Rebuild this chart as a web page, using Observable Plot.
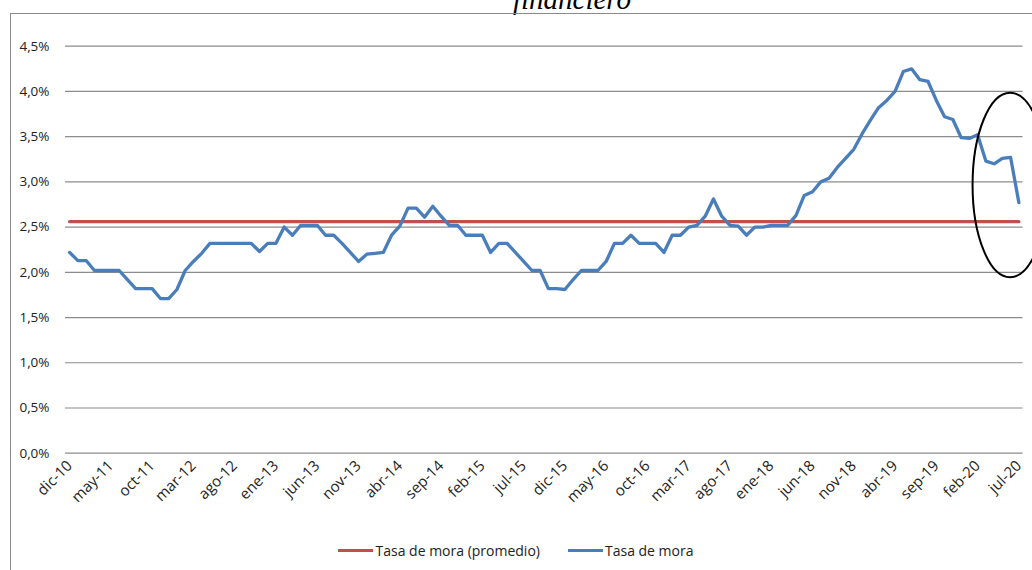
<!DOCTYPE html>
<html>
<head>
<meta charset="utf-8">
<script src="https://cdn.jsdelivr.net/npm/d3@7"></script>
<script src="https://cdn.jsdelivr.net/npm/@observablehq/plot@0.6"></script>
<style>
  html, body { margin: 0; padding: 0; background: #fff; }
  #wrap { position: relative; width: 1032px; height: 570px; overflow: hidden; background: #fff; font-family: "Open Sans", sans-serif; }
  #frame { position: absolute; left: 10px; top: 13px; width: 1100px; height: 700px; border-left: 1px solid #8a8a8a; border-top: 1px solid #8a8a8a; }
  #title { position: absolute; left: 0; width: 1144px; top: -15px; text-align: center; font-family: "Liberation Serif", "Times New Roman", serif; font-style: italic; font-size: 29px; line-height: 29px; color: #000; }
  #chart { position: absolute; left: 0; top: 0; }
  #legend { position: absolute; top: 541px; left: 0; width: 1032px; display: flex; justify-content: center; align-items: center; font-size: 14px; color: #222; }
  .item { display: flex; align-items: center; margin: 0 14px; }
  .sw { width: 35px; height: 3px; margin-right: 2px; }
</style>
</head>
<body>
<div id="wrap">
  <div id="title">financiero</div>
  <div id="frame"></div>
  <div id="chart"></div>
  <div id="legend"></div>
</div>
<script>
// ---- Data ----
const monthNames = ["ene","feb","mar","abr","may","jun","jul","ago","sep","oct","nov","dic"];
const tickLabels = ["dic-10","may-11","oct-11","mar-12","ago-12","ene-13","jun-13","nov-13","abr-14","sep-14","feb-15","jul-15","dic-15","may-16","oct-16","mar-17","ago-17","ene-18","jun-18","nov-18","abr-19","sep-19","feb-20","jul-20"];
const yTicks = [0, 0.5, 1, 1.5, 2, 2.5, 3, 3.5, 4, 4.5];
// Tasa de mora (%), monthly dic-10 .. jul-20
const tasaMora = [
  2.22, 2.13, 2.13, 2.02, 2.02, 2.02, 2.02, 1.92, 1.82, 1.82,
  1.82, 1.71, 1.71, 1.81, 2.02, 2.12, 2.21, 2.32, 2.32, 2.32,
  2.32, 2.32, 2.32, 2.23, 2.32, 2.32, 2.50, 2.41, 2.52, 2.52,
  2.52, 2.41, 2.41, 2.32, 2.22, 2.12, 2.20, 2.21, 2.22, 2.41,
  2.51, 2.71, 2.71, 2.61, 2.73, 2.62, 2.52, 2.52, 2.41, 2.41,
  2.41, 2.22, 2.32, 2.32, 2.22, 2.12, 2.02, 2.02, 1.82, 1.82,
  1.81, 1.92, 2.02, 2.02, 2.02, 2.12, 2.32, 2.32, 2.41, 2.32,
  2.32, 2.32, 2.22, 2.41, 2.41, 2.50, 2.52, 2.62, 2.81, 2.62,
  2.52, 2.51, 2.41, 2.50, 2.50, 2.52, 2.52, 2.52, 2.63, 2.85,
  2.89, 3.00, 3.04, 3.16, 3.26, 3.36, 3.53, 3.68, 3.82, 3.90,
  4.00, 4.22, 4.25, 4.13, 4.11, 3.90, 3.72, 3.69, 3.49, 3.48,
  3.52, 3.23, 3.20, 3.26, 3.27, 2.77
];
const tasaPromedio = 2.56;
// highlighted region (ellipse annotation)
const highlightMonth = "jun-20";
const highlightCenter = 2.96;   // %
const highlightHalfHeight = 1.02; // %
const highlightHalfWidth = 4.55;  // months

// ---- Build tables ----
const months = [];
for (let i = 0; i < tasaMora.length; i++) {
  const m = (11 + i) % 12;
  const yr = 10 + Math.floor((11 + i) / 12);
  months.push(monthNames[m] + "-" + String(yr).padStart(2, "0"));
}
const serie = months.map((m, i) => ({i, m, v: tasaMora[i]}));
const promedio = months.map((m, i) => ({i, m, v: tasaPromedio}));
const tickIdx = tickLabels.map(l => months.indexOf(l));

const fmt = d => d.toFixed(1).replace(".", ",") + "%";

function ellipseMark(index, scales, values, dimensions) {
  const x = scales.x, y = scales.y;
  const i0 = months.indexOf(highlightMonth);
  const step = x(1) - x(0);
  const cx = x(i0);
  const cy = y(highlightCenter);
  const ry = Math.abs(y(highlightCenter - highlightHalfHeight) - cy);
  const rx = highlightHalfWidth * step;
  const g = d3.create("svg:g");
  g.append("ellipse")
    .attr("cx", cx).attr("cy", cy).attr("rx", rx).attr("ry", ry)
    .attr("fill", "none").attr("stroke", "#000").attr("stroke-width", 2);
  return g.node();
}

const chart = Plot.plot({
  width: 1032,
  height: 520,
  marginLeft: 65,
  marginRight: 9.5,
  marginTop: 45.7,
  marginBottom: 67.3,
  x: {type: "linear", domain: [-0.5, months.length - 0.5]},
  y: {domain: [0, 4.5]},
  style: {fontFamily: "Open Sans", fontSize: "13.5px", color: "#222", background: "transparent", overflow: "visible"},
  marks: [
    Plot.ruleY(yTicks, {stroke: "#8c8c8c", strokeWidth: 1.2}),
    Plot.axisY({ticks: yTicks, tickSize: 0, tickPadding: 16, tickFormat: fmt, label: null}),
    Plot.axisX({ticks: tickIdx, tickFormat: i => months[i], tickSize: 0, tickRotate: -45, tickPadding: 7, dy: 3, fontSize: 15, label: null}),
    Plot.line(promedio, {x: "i", y: "v", stroke: "#C0504D", strokeWidth: 3.3}),
    Plot.line(serie, {x: "i", y: "v", stroke: "#4A7EBB", strokeWidth: 3.3, strokeLinejoin: "round"}),
    ellipseMark
  ]
});
document.getElementById("chart").appendChild(chart);

const legendItems = [
  {label: "Tasa de mora (promedio)", color: "#C0504D"},
  {label: "Tasa de mora", color: "#4A7EBB"}
];
const leg = document.getElementById("legend");
legendItems.forEach(it => {
  const d = document.createElement("div");
  d.className = "item";
  const s = document.createElement("span");
  s.className = "sw";
  s.style.background = it.color;
  const t = document.createElement("span");
  t.textContent = it.label;
  d.appendChild(s); d.appendChild(t);
  leg.appendChild(d);
});
</script>
</body>
</html>
